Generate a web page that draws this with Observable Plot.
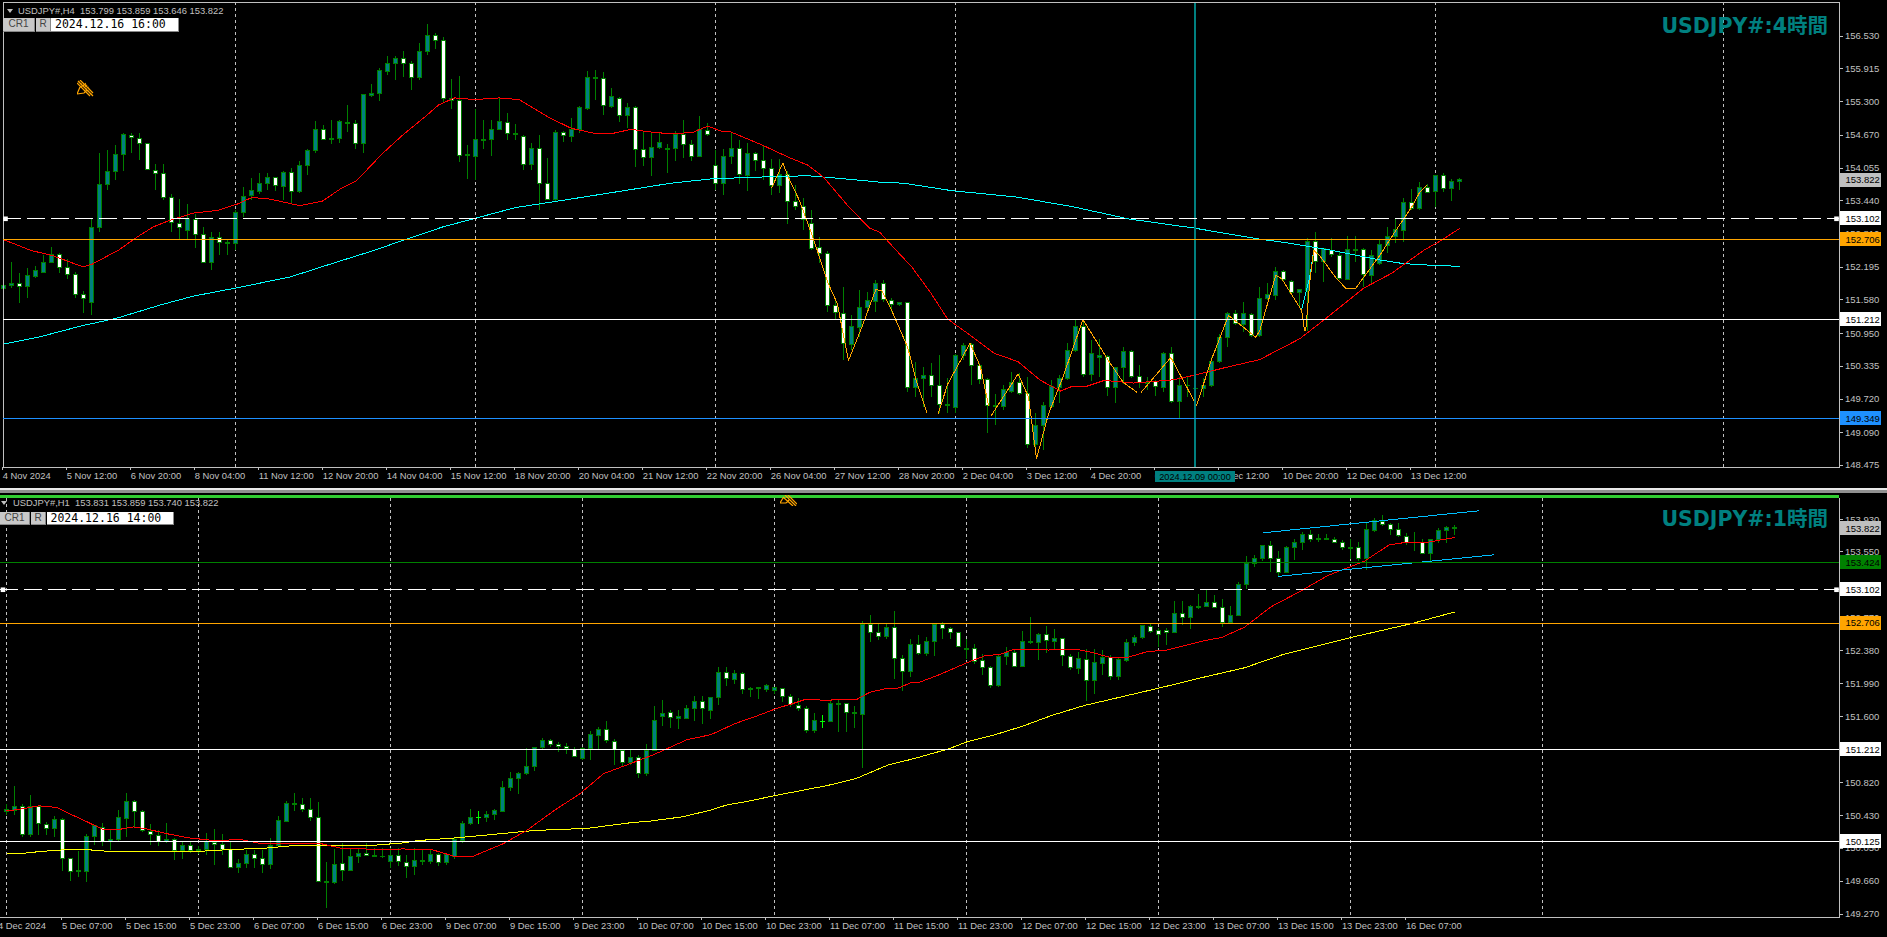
<!DOCTYPE html>
<html><head><meta charset="utf-8">
<script src="https://cdn.jsdelivr.net/npm/d3@7"></script>
<script src="https://cdn.jsdelivr.net/npm/@observablehq/plot@0.6"></script>
<style>
html,body{margin:0;padding:0;background:#000;overflow:hidden}
#root{position:relative;width:1887px;height:937px;background:#000;overflow:hidden;font-family:"Liberation Sans",sans-serif}
#panes{position:absolute;left:0;top:0;width:1887px;height:937px}
#panes>div{position:absolute;left:0;width:1887px}
#panes svg{display:block;max-width:none}
.h{position:absolute;color:#c0c0c0;font-size:9.4px;white-space:pre;line-height:12px}
.btn{position:absolute;background:#c8c8c8;color:#444;font-size:10px;text-align:center;box-sizing:border-box;border-right:1px solid #888;border-bottom:1px solid #888}
.date{position:absolute;background:#fff;color:#000;font:11.5px/13px "DejaVu Sans Mono",monospace;box-sizing:border-box;padding-left:4px;border-right:1px solid #888;border-bottom:1px solid #888}
.title{position:absolute;right:59px;color:#008080;font:bold 20.5px/24px "DejaVu Sans","Noto Sans CJK JP",sans-serif;white-space:nowrap}
.tri{position:absolute;width:0;height:0;border-left:3px solid transparent;border-right:3px solid transparent;border-top:4px solid #c0c0c0}
</style></head><body>
<div id="root"><div id="panes"></div>
<div style="position:absolute;left:0;top:488px;width:1887px;height:2px;background:#e8e8e8"></div>
<div style="position:absolute;left:0;top:490px;width:1887px;height:2.5px;background:#909090"></div>
<div style="position:absolute;left:0;top:494.7px;width:1838.5px;height:3.5px;background:#32cd32"></div>
<div class="tri" style="left:7px;top:9px"></div>
<div class="h" style="left:18px;top:5px">USDJPY#,H4  153.799 153.859 153.646 153.822</div>
<div class="btn" style="left:3px;top:18px;width:32px;height:14px">CR1</div>
<div class="btn" style="left:36px;top:18px;width:15px;height:14px">R</div>
<div class="date" style="left:51px;top:18px;width:128px;height:14px">2024.12.16 16:00</div>
<div class="title" style="top:14px">USDJPY#:4時間</div>
<div style="position:absolute;left:1155px;top:470.5px;width:80px;height:11.5px;background:#008080;color:#000;font-size:9.2px;line-height:12px;text-align:center">2024.12.09 00:00</div>
<div class="tri" style="left:1px;top:501px"></div>
<div class="h" style="left:13px;top:497px">USDJPY#,H1  153.831 153.859 153.740 153.822</div>
<div class="btn" style="left:0;top:512px;width:30px;height:13px">CR1</div>
<div class="btn" style="left:31px;top:512px;width:15px;height:13px">R</div>
<div class="date" style="left:46.5px;top:512px;width:127px;height:13px;line-height:12px">2024.12.16 14:00</div>
<div class="title" style="top:507px">USDJPY#:1時間</div>
<svg style="position:absolute;left:77px;top:80px" width="17" height="17" viewBox="0 0 17 17"><g fill="none" stroke="#ffa500" stroke-width="1.2"><path d="M1 1 L16 16 M3 0 L16 13 M0 3 L13 16 M3 7 L9 4 M0 14 L3 7 M0 14 L7 13 L10 10"/><path stroke-dasharray="1 1.4" d="M2 2 L15 15 M4 4 L12 8 M8 3 L13 10"/></g></svg>
<svg style="position:absolute;left:780px;top:495px" width="17" height="11" viewBox="0 6 17 11"><g fill="none" stroke="#ffa500" stroke-width="1.2"><path d="M5 6 L16 17 M8 6 L17 15 M3 8 L13 17 M0 14 L3 9 M0 14 L6 14 L9 11"/></g></svg>
</div>
<script>
// ---------- H4 pane: candles [open, high, low, close] ----------
const h4Candles=[
[151.78,151.96,151.59,151.85],[151.84,152.28,151.80,151.88],[151.88,152.08,151.52,151.83],[151.82,152.16,151.61,152.02],[152.01,152.20,151.99,152.12],[152.08,152.41,152.07,152.28],[152.27,152.56,152.26,152.43],[152.43,152.46,152.07,152.18],[152.18,152.33,151.96,152.05],[152.05,152.10,151.60,151.68],
[151.68,151.73,151.32,151.60],[151.52,153.10,151.28,152.93],[152.93,154.32,152.85,153.74],[153.74,154.38,153.64,153.98],[153.98,154.48,153.82,154.30],[154.30,154.70,153.98,154.67],[154.66,154.71,154.33,154.62],[154.60,154.71,154.20,154.51],[154.51,154.52,154.00,154.01],[154.00,154.13,153.64,153.95],
[153.95,154.12,153.45,153.50],[153.50,153.55,152.85,153.02],[153.01,153.46,152.70,152.93],[152.88,153.37,152.70,153.10],[153.08,153.19,152.54,152.79],[152.80,152.94,152.26,152.27],[152.27,152.85,152.13,152.75],[152.75,152.85,152.41,152.65],[152.65,152.70,152.42,152.62],[152.62,153.26,152.51,153.21],
[153.21,153.68,153.13,153.51],[153.53,153.86,153.45,153.63],[153.61,153.95,153.55,153.76],[153.75,153.95,153.64,153.87],[153.87,153.88,153.62,153.71],[153.70,153.98,153.45,153.96],[153.96,154.04,153.38,153.60],[153.60,154.18,153.58,154.10],[154.09,154.40,153.91,154.38],[154.37,154.93,154.32,154.77],
[154.77,154.85,154.57,154.58],[154.58,154.95,154.49,154.60],[154.60,154.95,154.51,154.91],[154.89,155.23,154.73,154.90],[154.89,154.95,154.40,154.51],[154.50,155.44,154.33,155.42],[155.40,155.62,155.38,155.45],[155.44,155.92,155.31,155.87],[155.85,156.15,155.79,156.01],[156.01,156.15,155.69,156.10],
[156.10,156.25,155.76,156.01],[156.01,156.06,155.50,155.75],[155.74,156.39,155.70,156.24],[156.23,156.75,156.17,156.54],[156.54,156.57,156.27,156.44],[156.44,156.50,155.29,155.35],[155.35,155.72,155.15,155.32],[155.32,155.77,154.16,154.28],[154.28,154.47,153.84,154.30],[154.26,155.15,153.82,154.58],
[154.57,154.95,154.40,154.58],[154.58,154.95,154.27,154.77],[154.77,155.35,154.76,154.91],[154.90,155.07,154.57,154.70],[154.69,154.87,154.57,154.67],[154.64,154.67,154.01,154.11],[154.11,154.51,154.01,154.42],[154.42,154.67,153.26,153.76],[153.76,154.23,153.45,153.46],[153.45,154.76,153.41,154.72],
[154.72,154.74,154.54,154.65],[154.64,154.98,154.54,154.77],[154.77,155.20,154.71,155.18],[155.17,155.87,155.13,155.75],[155.72,155.88,155.32,155.75],[155.73,155.85,155.04,155.22],[155.20,155.54,155.17,155.39],[155.35,155.38,154.91,155.04],[155.03,155.26,154.79,155.18],[155.18,155.20,154.07,154.40],
[154.40,154.73,154.09,154.25],[154.24,154.70,153.90,154.43],[154.43,154.71,154.41,154.53],[154.39,154.50,153.96,154.42],[154.41,154.74,154.18,154.68],[154.68,154.95,154.24,154.49],[154.48,154.57,154.18,154.27],[154.26,155.02,154.26,154.76],[154.75,154.89,154.65,154.68],[154.09,154.38,153.63,153.76],
[153.76,154.40,153.54,154.27],[154.26,154.73,154.13,154.42],[154.42,154.57,153.75,153.93],[153.91,154.51,153.62,154.32],[154.32,154.34,153.98,154.18],[154.18,154.48,153.82,154.04],[154.03,154.21,153.54,153.72],[153.71,154.21,153.57,153.93],[153.92,153.98,152.99,153.42],[153.42,153.73,153.25,153.32],
[153.32,153.49,152.88,153.07],[153.01,153.25,152.51,152.54],[152.56,152.75,152.26,152.45],[152.45,152.48,151.35,151.47],[151.46,151.60,151.22,151.34],[151.32,151.82,150.44,150.76],[150.74,151.29,150.63,151.08],[151.05,151.76,150.87,151.43],[151.42,151.72,151.32,151.55],[151.54,151.94,151.35,151.88],
[151.88,151.94,151.54,151.57],[151.56,151.60,151.35,151.49],[151.48,151.54,151.45,151.52],[151.52,151.53,149.85,149.93],[149.92,150.41,149.75,150.10],[150.09,150.32,149.57,150.15],[150.15,150.38,149.75,149.97],[149.96,150.54,149.44,149.60],[149.59,150.10,149.44,149.61],[149.55,150.56,149.44,150.53],
[150.52,150.76,150.44,150.72],[150.73,150.76,149.97,150.34],[150.34,150.38,150.00,150.08],[150.07,150.10,149.08,149.59],[149.57,149.81,149.22,149.59],[149.57,149.97,149.50,149.88],[149.86,150.22,149.82,150.02],[150.02,150.20,149.78,149.82],[149.82,150.13,148.80,148.86],[148.85,149.44,148.75,149.22],
[149.21,149.66,148.75,149.58],[149.57,150.07,149.56,149.94],[149.92,150.16,149.63,150.10],[150.09,150.76,150.07,150.62],[150.62,151.22,150.60,151.07],[151.07,151.22,150.13,150.17],[150.18,150.82,150.04,150.56],[150.49,150.83,150.13,150.53],[150.51,150.53,149.77,149.93],[149.93,150.32,149.64,150.30],
[150.30,150.69,150.00,150.61],[150.60,150.63,150.10,150.13],[150.13,150.34,149.91,150.02],[150.01,150.13,149.88,150.03],[150.04,150.07,149.77,149.94],[149.92,150.60,149.85,150.57],[150.56,150.69,149.63,149.66],[149.66,150.13,149.36,149.96],[149.96,150.13,149.75,149.97],[149.90,150.04,149.63,149.91],
[149.90,150.10,149.75,149.97],[149.96,150.50,149.94,150.41],[150.41,150.94,150.38,150.87],[150.87,151.35,150.69,151.32],[151.32,151.38,151.10,151.13],[151.10,151.54,150.97,151.32],[151.30,151.33,150.88,150.91],[150.91,151.82,150.88,151.60],[151.59,151.88,151.57,151.68],[151.66,152.18,151.57,152.10],
[152.10,152.13,151.91,151.96],[151.91,151.94,151.69,151.71],[151.71,151.77,151.41,151.76],[151.75,152.73,150.98,152.66],[152.66,152.85,152.07,152.30],[152.29,152.54,151.91,152.54],[152.50,152.73,152.38,152.43],[152.41,152.47,151.94,151.98],[151.96,152.77,151.94,152.52],[152.49,152.77,152.29,152.52],
[152.52,152.54,151.82,152.04],[152.02,152.50,151.88,152.41],[152.26,152.70,152.23,152.61],[152.60,152.94,152.45,152.76],[152.76,153.10,152.63,152.89],[152.88,153.48,152.66,153.40],[153.40,153.66,153.26,153.28],[153.28,153.79,153.26,153.68],[153.68,153.74,153.57,153.59],[153.60,153.92,153.31,153.91],
[153.90,153.96,153.60,153.67],[153.66,153.83,153.43,153.80],[153.80,153.86,153.64,153.822]];
// moving averages and zigzag: [candle index, price]
const h4Red=[[0,152.71],[3.37,152.51],[6.13,152.41],[9.9,152.20],[11.05,152.25],[14.42,152.52],[16.68,152.76],[18.69,152.95],[20.7,153.07],[23.72,153.21],[26.73,153.26],[29.25,153.38],[31,153.50],[33,153.48],[37,153.35],[39.8,153.43],[42.06,153.66],[44.07,153.81],[47.3,154.32],[49.85,154.67],[52.86,155.04],[54.37,155.24],[56.38,155.37],[58.9,155.34],[61.9,155.37],[64.4,155.34],[68.2,155.00],[70.95,154.80],[73.97,154.70],[76,154.70],[78.4,154.78],[81.4,154.72],[83.4,154.70],[86.1,154.72],[88,154.84],[89.65,154.75],[90.9,154.73],[94.9,154.48],[98.2,154.25],[100.5,154.11],[102.5,153.88],[105.5,153.35],[108.2,152.93],[109.5,152.85],[111.5,152.52],[113.5,152.20],[115.8,151.73],[118,151.22],[120.6,150.94],[123.8,150.58],[126.8,150.42],[129.6,150.07],[132.1,149.87],[133.6,149.96],[135.4,149.96],[137.6,150.07],[141.2,150.02],[146.2,150.08],[149.2,150.18],[152.7,150.31],[157,150.46],[162,150.85],[165,151.20],[170,151.80],[173.5,152.08],[177.5,152.51],[179.5,152.68],[182,152.92]];
const h4Cyan=[[0,150.75],[4.6,150.89],[9.65,151.09],[14.2,151.24],[19.7,151.49],[23.7,151.65],[29.25,151.81],[35.8,152.01],[40.8,152.25],[46.3,152.51],[50.35,152.72],[54.9,152.95],[58.9,153.11],[63.9,153.31],[69.95,153.45],[78.4,153.65],[83.4,153.77],[88.4,153.85],[93.4,153.88],[100.5,153.91],[104.5,153.86],[109.5,153.79],[112.5,153.77],[118.5,153.63],[126.6,153.51],[133.6,153.33],[140.6,153.10],[148.7,152.93],[157,152.72],[160,152.66],[166,152.51],[172,152.33],[175,152.26],[178.5,152.23],[182,152.21]];
const h4CyanLeg=[[162.25,151.41],[163.25,152.0],[163.75,152.51]];
const h4Zig1=[[96,153.68],[97.4,154.15],[98,153.91],[99.45,153.45],[100.7,152.94],[101.7,152.51],[103,151.91],[104.2,151.51],[105.6,150.44],[107.2,151.04],[109,151.77],[109.75,151.76],[111,151.38],[113,150.69],[114,150.10],[115.4,149.46]];
const h4Zig2=[[116.8,149.44],[118,150.00],[120.8,150.77],[122.1,150.32],[123.1,149.60]];
const h4Zig3=[[123.4,149.40],[126.8,150.19],[128.1,149.76],[129.1,148.60],[130.6,149.44],[132.4,150.13],[134.9,151.21],[138.1,150.44],[139.9,150.04],[141.6,149.85]];
const h4Zig4=[[142.2,149.85],[145.9,150.50],[149.1,149.60],[151,150.47],[153.1,151.29],[154.2,151.16],[156.5,150.88],[157,151.00],[159,152.04],[159.75,151.98],[162.25,151.38],[162.6,151.00],[162.75,151.00],[163.25,151.9],[163.75,152.51],[164.5,152.41],[166.5,152.00],[167.75,151.80],[169,151.80],[171.25,152.26],[172,152.41],[174,152.88],[176,153.32],[177,153.60],[177.9,153.73]];
const h4PriceTicks=[156.530,155.915,155.300,154.670,154.055,153.440,152.810,152.195,151.580,150.950,150.335,149.720,149.090,148.475];
const h4TimeLabels=["4 Nov 2024","5 Nov 12:00","6 Nov 20:00","8 Nov 04:00","11 Nov 12:00","12 Nov 20:00","14 Nov 04:00","15 Nov 12:00","18 Nov 20:00","20 Nov 04:00","21 Nov 12:00","22 Nov 20:00","26 Nov 04:00","27 Nov 12:00","28 Nov 20:00","2 Dec 04:00","3 Dec 12:00","4 Dec 20:00","6 Dec 04:00","9 Dec 12:00","10 Dec 20:00","12 Dec 04:00","13 Dec 12:00"];
const h4Grid=[29,59,89,119,179,215];
const h4Cursor=[148.95];
const h4Levels=[153.822,153.102,152.706,151.212,149.349];
const h4LevelFills=["#c0c0c0","#ffffff","#ffa500","#ffffff","#1e90ff"];

// ---------- H1 pane: candles [open, high, low, close] ----------
const h1Candles=[
[150.48,150.57,150.44,150.50],[150.49,150.78,150.44,150.54],[150.53,150.57,150.18,150.21],[150.21,150.67,150.18,150.53],[150.53,150.55,150.20,150.33],[150.32,150.35,150.20,150.28],[150.27,150.42,150.18,150.38],[150.38,150.40,149.77,149.92],[149.92,149.93,149.65,149.77],[149.77,150.01,149.70,149.78],
[149.77,150.21,149.64,150.18],[150.18,150.32,150.08,150.31],[150.29,150.34,150.07,150.12],[150.12,150.26,150.02,150.15],[150.15,150.49,150.13,150.40],[150.39,150.69,150.18,150.60],[150.60,150.61,150.28,150.48],[150.48,150.49,150.23,150.25],[150.24,150.33,150.08,150.20],[150.19,150.26,150.07,150.12],
[150.12,150.34,150.10,150.15],[150.14,150.16,149.90,150.01],[150.01,150.12,149.92,150.08],[150.07,150.12,149.99,150.01],[150.01,150.07,149.97,150.03],[150.03,150.22,149.96,150.12],[150.11,150.27,149.84,150.09],[150.09,150.21,149.96,150.03],[150.03,150.13,149.81,149.82],[149.81,149.91,149.75,149.86],
[149.86,150.02,149.81,149.97],[149.97,150.02,149.81,149.92],[149.92,150.02,149.75,149.85],[149.85,150.16,149.80,150.08],[150.08,150.42,150.07,150.37],[150.36,150.60,150.35,150.57],[150.56,150.70,150.48,150.57],[150.56,150.64,150.47,150.50],[150.50,150.64,150.36,150.40],[150.40,150.59,149.64,149.65],
[149.64,149.88,149.34,149.65],[149.64,150.03,149.62,149.85],[149.86,150.10,149.66,149.78],[149.78,150.04,149.77,149.95],[149.94,150.04,149.87,149.98],[149.98,150.11,149.95,149.96],[149.94,150.04,149.94,149.96],[149.94,150.04,149.93,149.95],[149.88,150.04,149.81,149.96],[149.96,150.04,149.83,149.88],
[149.87,149.96,149.69,149.83],[149.83,150.04,149.73,149.90],[149.89,150.02,149.84,149.90],[149.89,150.02,149.86,149.97],[149.97,149.99,149.83,149.87],[149.87,149.99,149.84,149.97],[149.95,150.18,149.92,150.14],[150.13,150.36,150.10,150.34],[150.33,150.51,150.32,150.41],[150.41,150.48,150.33,150.41],
[150.40,150.48,150.35,150.44],[150.44,150.51,150.38,150.49],[150.48,150.84,150.47,150.76],[150.76,150.94,150.72,150.87],[150.87,150.94,150.68,150.93],[150.92,151.23,150.91,151.01],[151.01,151.24,150.96,151.23],[151.23,151.34,151.20,151.32],[151.31,151.33,151.24,151.27],[151.27,151.30,151.18,151.24],
[151.24,151.29,151.15,151.22],[151.21,151.24,151.12,151.13],[151.10,151.24,151.09,151.22],[151.22,151.43,151.09,151.39],[151.38,151.48,151.22,151.44],[151.44,151.55,151.29,151.31],[151.30,151.33,151.03,151.21],[151.20,151.22,151.01,151.06],[151.05,151.22,151.03,151.12],[151.11,151.14,150.87,150.92],
[150.92,151.27,150.89,151.20],[151.20,151.72,151.20,151.55],[151.60,151.79,151.49,151.63],[151.65,151.67,151.46,151.59],[151.58,151.68,151.45,151.60],[151.57,151.73,151.57,151.69],[151.69,151.84,151.54,151.78],[151.78,151.84,151.51,151.69],[151.67,151.83,151.57,151.82],[151.82,152.18,151.74,152.12],
[152.12,152.18,151.96,152.05],[152.04,152.15,151.98,152.11],[152.11,152.12,151.865,151.92],[151.92,151.95,151.83,151.93],[151.93,151.95,151.81,151.94],[151.92,151.98,151.89,151.96],[151.91,151.95,151.87,151.94],[151.93,151.94,151.77,151.83],[151.83,151.86,151.71,151.74],[151.73,151.82,151.66,151.69],
[151.69,151.72,151.40,151.43],[151.43,151.64,151.40,151.55],[151.55,151.62,151.46,151.55],[151.54,151.78,151.53,151.75],[151.74,151.80,151.41,151.75],[151.75,151.76,151.41,151.65],[151.65,151.72,151.46,151.63],[151.62,152.73,150.99,152.68],[152.68,152.80,152.48,152.59],[152.59,152.70,152.50,152.54],
[152.54,152.70,152.52,152.65],[152.65,152.85,152.04,152.28],[152.28,152.32,151.90,152.13],[152.13,152.52,152.07,152.45],[152.45,152.56,152.33,152.34],[152.34,152.54,152.31,152.49],[152.48,152.69,152.31,152.68],[152.68,152.71,152.51,152.64],[152.64,152.66,152.51,152.59],[152.59,152.60,152.42,152.43],
[152.39,152.52,152.28,152.40],[152.40,152.45,152.22,152.25],[152.26,152.34,152.09,152.18],[152.18,152.20,151.94,151.97],[151.96,152.33,151.95,152.31],[152.31,152.42,152.21,152.36],[152.36,152.40,152.18,152.19],[152.19,152.61,152.18,152.49],[152.47,152.77,152.46,152.48],[152.47,152.58,152.27,152.57],
[152.57,152.67,152.35,152.50],[152.49,152.63,152.39,152.52],[152.52,152.53,152.20,152.32],[152.31,152.34,152.15,152.18],[152.17,152.36,152.10,152.28],[152.27,152.40,151.78,152.02],[152.02,152.40,151.87,152.24],[152.23,152.38,152.09,152.29],[152.29,152.32,152.03,152.07],[152.07,152.29,152.03,152.27],
[152.26,152.52,152.24,152.47],[152.47,152.56,152.43,152.53],[152.53,152.68,152.51,152.67],[152.66,152.69,152.59,152.60],[152.61,152.64,152.42,152.57],[152.61,152.64,152.44,152.59],[152.59,152.96,152.58,152.82],[152.82,152.96,152.68,152.77],[152.77,152.92,152.63,152.90],[152.89,153.05,152.87,152.90],
[152.90,153.09,152.89,152.95],[152.95,153.03,152.88,152.89],[152.89,152.99,152.66,152.71],[152.71,152.90,152.71,152.79],[152.79,153.19,152.79,153.16],[153.16,153.49,153.11,153.41],[153.41,153.51,153.37,153.47],[153.46,153.63,153.43,153.62],[153.62,153.67,153.31,153.46],[153.46,153.55,153.25,153.30],
[153.30,153.61,153.29,153.60],[153.59,153.69,153.45,153.66],[153.66,153.78,153.56,153.75],[153.75,153.80,153.66,153.69],[153.69,153.75,153.66,153.70],[153.69,153.75,153.68,153.70],[153.69,153.72,153.65,153.66],[153.66,153.68,153.57,153.60],[153.60,153.70,153.46,153.58],[153.60,153.66,153.43,153.46],
[153.46,153.89,153.33,153.81],[153.80,153.94,153.78,153.91],[153.90,153.98,153.85,153.87],[153.87,153.89,153.74,153.81],[153.81,153.89,153.72,153.74],[153.73,153.77,153.63,153.66],[153.65,153.78,153.55,153.66],[153.65,153.69,153.52,153.53],[153.53,153.70,153.44,153.69],[153.69,153.83,153.65,153.80],
[153.80,153.85,153.65,153.83],[153.831,153.859,153.740,153.822]];
const h1Red=[[0,150.49],[1.7,150.51],[4,150.55],[6.2,150.53],[8.2,150.44],[10.25,150.35],[12,150.27],[14,150.27],[15.8,150.30],[17.3,150.28],[20,150.22],[22.8,150.17],[25.8,150.14],[29.3,150.15],[31.9,150.10],[36.4,150.10],[38.9,150.11],[41.7,150.05],[44.7,150.04],[47.4,150.03],[49.4,150.04],[53.2,150.03],[56,149.95],[58.2,149.95],[62,150.10],[65,150.26],[68.5,150.50],[71.6,150.69],[74.6,150.93],[78,151.05],[81,151.16],[85,151.33],[88,151.39],[91,151.52],[94,151.62],[96.5,151.71],[98,151.75],[99.6,151.80],[101.6,151.80],[102.6,151.79],[103.6,151.81],[106.1,151.80],[107.85,151.89],[110.1,151.94],[111.4,151.94],[112.9,152.00],[114.1,152.01],[116.6,152.10],[120,152.24],[122.2,152.32],[124.2,152.34],[125.9,152.40],[127.4,152.40],[130.2,152.39],[132.2,152.40],[134.2,152.39],[135.7,152.36],[138,152.30],[140,152.30],[142.5,152.37],[145,152.39],[148,152.46],[149.2,152.49],[151.9,152.54],[154.7,152.66],[158,152.90],[161.8,153.09],[165.1,153.27],[168.1,153.38],[169.7,153.44],[172.75,153.63],[174.7,153.66],[177.4,153.66],[181,153.72]];
const h1Yellow=[[0,149.98],[2.2,149.99],[4.2,150.01],[7.2,150.03],[10.25,150.03],[12.8,150.01],[19.3,150.01],[23.8,150.01],[27.3,150.03],[32.4,150.05],[35.9,150.08],[39.4,150.08],[42.4,150.08],[45.4,150.08],[49.4,150.11],[51.5,150.14],[56,150.17],[59.5,150.20],[65,150.25],[68.5,150.27],[72.3,150.28],[78,150.35],[80.5,150.37],[84.5,150.42],[88,150.50],[90,150.56],[92.5,150.60],[96,150.67],[102.6,150.79],[106.1,150.87],[110.1,151.03],[113.1,151.10],[117.65,151.22],[120.15,151.31],[123.2,151.38],[126.95,151.49],[130.7,151.62],[134.7,151.735],[144,151.94],[149.2,152.06],[154.7,152.18],[159.6,152.34],[163.4,152.43],[168.1,152.54],[175.5,152.70],[181,152.84]];
const h1ChannelUp=[[157.03,153.775],[184,154.035]];
const h1ChannelDown=[[158.95,153.26],[185.9,153.515]];
const h1PriceTicks=[153.930,153.550,153.160,152.770,152.380,151.990,151.600,151.210,150.820,150.430,150.050,149.660,149.270];
const h1TimeLabels=["4 Dec 2024","5 Dec 07:00","5 Dec 15:00","5 Dec 23:00","6 Dec 07:00","6 Dec 15:00","6 Dec 23:00","9 Dec 07:00","9 Dec 15:00","9 Dec 23:00","10 Dec 07:00","10 Dec 15:00","10 Dec 23:00","11 Dec 07:00","11 Dec 15:00","11 Dec 23:00","12 Dec 07:00","12 Dec 15:00","12 Dec 23:00","13 Dec 07:00","13 Dec 15:00","13 Dec 23:00","16 Dec 07:00"];
const h1Grid=[0,24,48,72,96,120,144,168,192];
const h1Levels=[153.822,153.424,153.102,152.706,151.212,150.125];
const h1LevelFills=["#c0c0c0","#008000","#ffffff","#ffa500","#ffffff","#ffffff"];

const fontFamily='"Liberation Sans",sans-serif';
const GREEN="#008000",TEAL="#008080",GRID="#c0c0c0";
const crisp={shapeRendering:"crispEdges"};
const fmt=d3.format(".3f");

function candleMarks(rows){
  const bodies=rows.filter(d=>d.o!==d.c);
  const dojis=rows.filter(d=>d.o===d.c);
  return [
    Plot.ruleX(rows,{x:"k",y1:"l",y2:"h",stroke:d=>d.o===d.c?"#00ff00":GREEN,strokeWidth:1,...crisp}),
    Plot.rect(bodies.filter(d=>d.c>d.o),{x1:d=>d.k-.25,x2:d=>d.k+.25,y1:"o",y2:"c",fill:TEAL,stroke:GREEN,strokeWidth:1,...crisp}),
    Plot.rect(bodies.filter(d=>d.c<d.o),{x1:d=>d.k-.25,x2:d=>d.k+.25,y1:"o",y2:"c",fill:"#fff",stroke:GREEN,strokeWidth:1,...crisp}),
    Plot.ruleY(dojis,{x1:d=>d.k-.3,x2:d=>d.k+.3,y:"c",stroke:"#00ff00",strokeWidth:1,...crisp})
  ];
}
const lineMark=(pts,stroke,w=1)=>Plot.line(pts,{x:d=>d[0],y:d=>d[1],stroke,strokeWidth:w,...crisp});

function pane(cfg){
  const rows=cfg.candles.map(([o,h,l,c],k)=>({k,o,h,l,c}));
  const pxToK=px=>(px-cfg.x0)/8;
  const pxPerYen=(cfg.height-cfg.mt-cfg.mb)/(cfg.yDomain[1]-cfg.yDomain[0]);
  const halfBox=7/pxPerYen;
  const lv=cfg.levels.map((p,i)=>({p,fill:cfg.levelFills[i]}));
  const borders=cfg.fullFrame
    ? [Plot.frame({stroke:"#c0c0c0",strokeWidth:1,...crisp})]
    : [Plot.frame({anchor:"bottom",stroke:"#c0c0c0",strokeWidth:1,...crisp}),Plot.frame({anchor:"right",stroke:"#c0c0c0",strokeWidth:1,...crisp})];
  const svg=Plot.plot({
    width:1887,height:cfg.height,
    marginLeft:cfg.ml,marginRight:1887-1838.5,marginTop:cfg.mt,marginBottom:cfg.mb,
    x:{type:"linear",domain:[pxToK(cfg.ml),pxToK(1838.5)]},
    y:{type:"linear",domain:cfg.yDomain},
    style:{background:"#000",color:"#c0c0c0",fontFamily,fontSize:"9.4px",maxWidth:"none"},
    marks:[
      Plot.ruleX(cfg.grid,{stroke:GRID,strokeWidth:1,strokeDasharray:"3,3",...crisp}),
      ...candleMarks(rows),
      ...cfg.lines,
      ...(cfg.cursor?[Plot.ruleX(cfg.cursor,{stroke:TEAL,strokeWidth:2,...crisp})]:[]),
      ...borders,
      Plot.axisY({anchor:"right",ticks:cfg.priceTicks,tickFormat:fmt,tickSize:3,tickPadding:3,fontSize:9.5,label:null,...crisp}),
      Plot.axisX({anchor:"bottom",ticks:cfg.timeLabels.map((_,i)=>cfg.k0+i*8),tickFormat:(d)=>cfg.timeLabels[(d-cfg.k0)/8],tickSize:3,tickPadding:2,textAnchor:"start",dx:-1,label:null,...crisp}),
      Plot.ruleY(lv.filter(d=>d.p!==153.822&&d.p!==153.102),{y:"p",stroke:d=>d.fill,strokeWidth:1,...crisp}),
      Plot.ruleY([153.102],{stroke:"#fff",strokeWidth:1,strokeDasharray:"18,6",...crisp}),
      Plot.dot([pxToK(cfg.ml+2.5),pxToK(1836)],{x:d=>d,y:()=>153.102,symbol:"square",r:2.6,fill:"#fff",stroke:null}),
      Plot.rect(lv,{x1:pxToK(1840),x2:pxToK(1881),y1:d=>d.p-halfBox,y2:d=>d.p+halfBox,fill:d=>d.fill,...crisp}),
      Plot.text(lv,{x:pxToK(1845),y:"p",text:d=>fmt(d.p),textAnchor:"start",fontSize:9.5,fill:"#000"})
    ],
    color:{type:"identity"}
  });
  const box=document.createElement("div");
  box.style.top=cfg.top+"px";
  box.appendChild(svg);
  document.getElementById("panes").appendChild(box);
}

pane({top:0,height:488,ml:2.5,mt:1.5,mb:21,x0:3.2,k0:0,fullFrame:true,
  yDomain:[148.435,157.17],candles:h4Candles,grid:h4Grid,cursor:h4Cursor,
  priceTicks:h4PriceTicks,timeLabels:h4TimeLabels,levels:h4Levels,levelFills:h4LevelFills,
  lines:[lineMark(h4Cyan,"#00ffff"),lineMark(h4CyanLeg,"#00ffff"),lineMark(h4Red,"#ff0000"),
    lineMark(h4Zig1,"#ffa500"),lineMark(h4Zig2,"#ffa500"),lineMark(h4Zig3,"#ffa500"),lineMark(h4Zig4,"#ffa500")]});
pane({top:490,height:447,ml:0,mt:8,mb:20,x0:6.4,k0:-1,fullFrame:false,
  yDomain:[149.23,154.18],candles:h1Candles,grid:h1Grid,cursor:null,
  priceTicks:h1PriceTicks,timeLabels:h1TimeLabels,levels:h1Levels,levelFills:h1LevelFills,
  lines:[lineMark(h1Yellow,"#ffff00"),lineMark(h1Red,"#ff0000"),lineMark(h1ChannelUp,"#00bfff"),lineMark(h1ChannelDown,"#00bfff")]});
</script>
</body></html>
